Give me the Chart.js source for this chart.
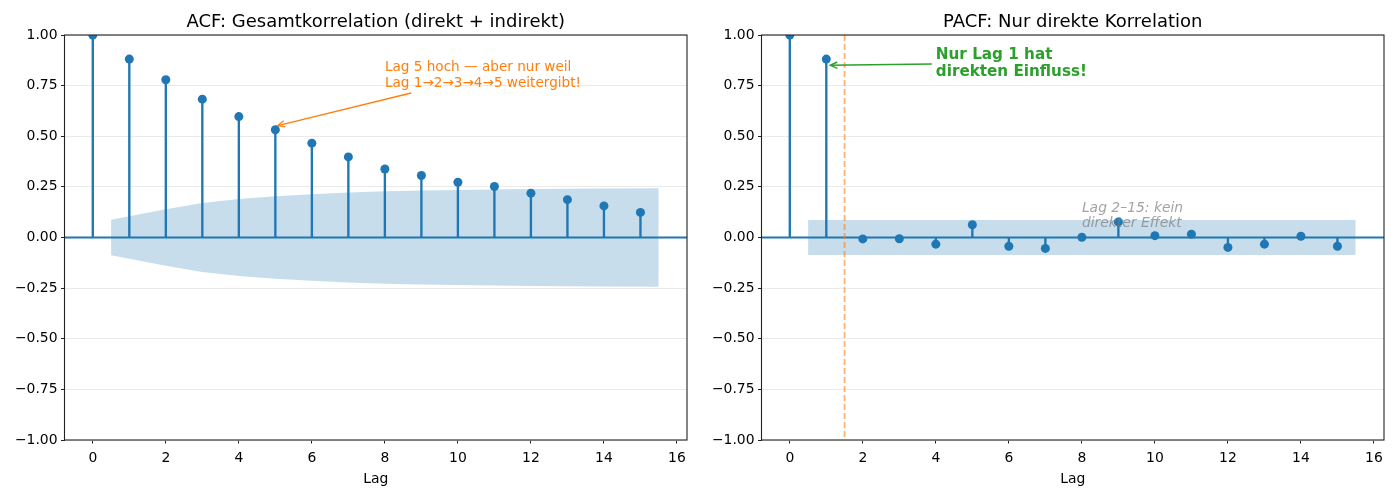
<!DOCTYPE html>
<html><head><meta charset="utf-8">
<script src="https://cdn.jsdelivr.net/npm/chart.js@4.4.0/dist/chart.umd.min.js"></script>
<style>
html,body{margin:0;padding:0;background:#fff;}
#wrap{position:relative;width:1397px;height:488px;overflow:hidden;background:#fff;}
canvas{position:absolute;top:0;}
</style></head><body>
<div id="wrap">
<canvas id="c1" width="700" height="488" style="left:0px"></canvas>
<canvas id="c2" width="700" height="488" style="left:697px"></canvas>
</div>
<script>
// ---------- data ----------
const lags = [0,1,2,3,4,5,6,7,8,9,10,11,12,13,14,15];
const acfValues  = [1.000,0.881,0.779,0.683,0.597,0.532,0.466,0.398,0.338,0.306,0.273,0.252,0.219,0.187,0.156,0.124];
const pacfValues = [1.000,0.881,-0.007,-0.006,-0.033,0.063,-0.043,-0.054,0.001,0.077,0.009,0.016,-0.049,-0.033,0.006,-0.043];
const acfBandX     = [0.5,2,3,4,5,6,7,8,9,10,11,12,13,14,15.5];
const acfBandUpper = [0.088,0.140,0.170,0.190,0.204,0.214,0.222,0.228,0.232,0.235,0.237,0.239,0.241,0.242,0.243];
const acfBandLower = [-0.088,-0.140,-0.170,-0.190,-0.204,-0.214,-0.222,-0.228,-0.232,-0.235,-0.237,-0.239,-0.241,-0.242,-0.243];
const pacfBandX     = [0.5,15.5];
const pacfBandUpper = [0.087,0.087];
const pacfBandLower = [-0.086,-0.086];
const xTickValues = [0,2,4,6,8,10,12,14,16];
const yTickValues = [-1,-0.75,-0.5,-0.25,0,0.25,0.5,0.75,1];
const xRange = [-0.775, 16.275];
const yRange = [-1, 1];
const acfTitle = 'ACF: Gesamtkorrelation (direkt + indirekt)';
const pacfTitle = 'PACF: Nur direkte Korrelation';
const xLabel = 'Lag';
const acfNote = ['Lag 5 hoch \u2014 aber nur weil', 'Lag 1\u21922\u21923\u21924\u21925 weitergibt!'];
const pacfNote = ['Nur Lag 1 hat', 'direkten Einfluss!'];
const pacfNote2 = ['Lag 2\u201315: kein', 'direkter Effekt'];
const pacfCutoff = 1.5;

// ---------- helpers ----------
const BLUE = '#1f77b4';
const FONT = "'DejaVu Sans', sans-serif";
function arrowHead(ctx, x1, y1, x2, y2, len, half) {
  const a = Math.atan2(y2 - y1, x2 - x1);
  ctx.beginPath();
  ctx.moveTo(x2 - len*Math.cos(a) + half*Math.sin(a), y2 - len*Math.sin(a) - half*Math.cos(a));
  ctx.lineTo(x2, y2);
  ctx.lineTo(x2 - len*Math.cos(a) - half*Math.sin(a), y2 - len*Math.sin(a) + half*Math.cos(a));
  ctx.stroke();
}
function arrow(ctx, x1, y1, x2, y2, color, lw) {
  ctx.save();
  ctx.strokeStyle = color; ctx.lineWidth = lw; ctx.lineCap = 'butt'; ctx.lineJoin = 'miter';
  ctx.beginPath(); ctx.moveTo(x1, y1); ctx.lineTo(x2, y2); ctx.stroke();
  arrowHead(ctx, x1, y1, x2, y2, 7, 3.2);
  ctx.restore();
}
function shrink(x1, y1, x2, y2, d) {
  const L = Math.hypot(x2 - x1, y2 - y1);
  return [x2 - (x2 - x1) / L * d, y2 - (y2 - y1) / L * d];
}

const framePlugin = {
  id: 'frame',
  afterDraw(chart, args, opts) {
    const ctx = chart.ctx, a = chart.chartArea;
    ctx.save();
    ctx.strokeStyle = '#222'; ctx.lineWidth = 1.1;
    ctx.strokeRect(a.left, a.top, a.right - a.left, a.bottom - a.top);
    ctx.fillStyle = '#000';
    ctx.textAlign = 'center'; ctx.textBaseline = 'alphabetic';
    ctx.font = '18px ' + FONT;
    ctx.fillText(opts.title, (a.left + a.right) / 2, 27);
    ctx.font = '13.9px ' + FONT;
    ctx.fillText(xLabel, (a.left + a.right) / 2, 483);
    ctx.restore();
  }
};

function buildChart(canvasId, values, bandX, bandUp, bandLo, title, extraPlugin) {
  const pts = lags.map((x, i) => ({x: x, y: values[i]}));
  return new Chart(document.getElementById(canvasId), {
    type: 'line',
    data: {
      datasets: [
        {type: 'line', data: bandX.map((x, i) => ({x: x, y: bandUp[i]})), fill: '+1',
         backgroundColor: 'rgba(31,119,180,0.25)', borderColor: 'rgba(0,0,0,0)', borderWidth: 0,
         pointRadius: 0, tension: 0, order: 6},
        {type: 'line', data: bandX.map((x, i) => ({x: x, y: bandLo[i]})), fill: false,
         borderColor: 'rgba(0,0,0,0)', borderWidth: 0, pointRadius: 0, tension: 0, order: 6},
        {type: 'line', data: [{x: xRange[0], y: 0}, {x: xRange[1], y: 0}], fill: false,
         borderColor: BLUE, borderWidth: 1.8, pointRadius: 0, order: 4},
        {type: 'bar', data: pts, backgroundColor: BLUE, borderWidth: 0, barThickness: 1.7, order: 3},
        {type: 'line', data: pts, showLine: false, pointRadius: 4.5, pointBackgroundColor: BLUE,
         pointBorderWidth: 0, pointBorderColor: BLUE, borderColor: BLUE, order: 1, clip: 0}
      ]
    },
    options: {
      responsive: false, animation: false, devicePixelRatio: 1, events: [],
      layout: {padding: {left: 0, top: 35, right: 13, bottom: 0}},
      plugins: {legend: {display: false}, tooltip: {enabled: false}, title: {display: false},
                frame: {title: title}},
      scales: {
        x: {
          type: 'linear', min: xRange[0], max: xRange[1], offset: false,
          afterBuildTicks: s => { s.ticks = xTickValues.map(v => ({value: v})); },
          afterFit: s => { s.height = 48; },
          border: {display: false},
          grid: {display: true, offset: false, drawOnChartArea: false, drawTicks: true, tickLength: 3.5, tickColor: '#222', tickWidth: 1},
          ticks: {autoSkip: false, maxRotation: 0, padding: 7, color: '#000',
                  font: {family: FONT, size: 13.9}, callback: v => String(v)}
        },
        y: {
          type: 'linear', min: yRange[0], max: yRange[1],
          afterBuildTicks: s => { s.ticks = yTickValues.map(v => ({value: v})); },
          afterFit: s => { s.width = 64.5; },
          border: {display: false},
          grid: {display: true, offset: false, drawOnChartArea: true, drawTicks: true, tickLength: 3.5,
                 tickColor: '#222', color: '#e8e8e8', lineWidth: 0.9, tickWidth: 1},
          ticks: {autoSkip: false, padding: 3.5, color: '#000', font: {family: FONT, size: 13.9},
                  callback: v => v.toFixed(2).replace('-', '\u2212')}
        }
      }
    },
    plugins: [framePlugin, extraPlugin]
  });
}

const acfAnnot = {
  id: 'acfAnnot',
  afterDatasetsDraw(chart) {
    const ctx = chart.ctx, xs = chart.scales.x, ys = chart.scales.y;
    ctx.save();
    ctx.font = '13.6px ' + FONT;
    ctx.fillStyle = '#ff7f0e';
    const ax = xs.getPixelForValue(8), ay = ys.getPixelForValue(0.8);
    ctx.textAlign = 'left'; ctx.textBaseline = 'alphabetic';
    ctx.fillText(acfNote[0], ax, ay - 5.0);
    ctx.fillText(acfNote[1], ax, ay + 11.0);
    const w = Math.max(ctx.measureText(acfNote[0]).width, ctx.measureText(acfNote[1]).width);
    const cx = ax + w / 2, cy = ay;
    const tx = xs.getPixelForValue(5), ty = ys.getPixelForValue(0.55);
    const by = cy + 17.5;
    const sx = cx + (tx - cx) * (by - cy) / (ty - cy);
    const [ex, ey] = shrink(sx, by, tx, ty, 2.5);
    arrow(ctx, sx, by, ex, ey, '#ff7f0e', 1.3);
    ctx.restore();
  }
};

const pacfAnnot = {
  id: 'pacfAnnot',
  afterDatasetsDraw(chart) {
    const ctx = chart.ctx, xs = chart.scales.x, ys = chart.scales.y, a = chart.chartArea;
    ctx.save();
    // cutoff line
    const vx = xs.getPixelForValue(pacfCutoff);
    ctx.strokeStyle = 'rgba(255,127,14,0.6)'; ctx.lineWidth = 1.8; ctx.setLineDash([6, 3]);
    ctx.beginPath(); ctx.moveTo(vx, a.top); ctx.lineTo(vx, a.bottom); ctx.stroke();
    ctx.setLineDash([]);
    // gray note
    ctx.font = 'italic 13.9px ' + FONT;
    ctx.fillStyle = 'rgba(128,128,128,0.72)';
    ctx.textAlign = 'left'; ctx.textBaseline = 'alphabetic';
    const gx = xs.getPixelForValue(8), gy = ys.getPixelForValue(0.1);
    ctx.fillText(pacfNote2[0], gx, gy - 5.6);
    ctx.fillText(pacfNote2[1], gx, gy + 9.6);
    // green note
    ctx.font = 'bold 15.2px ' + FONT;
    ctx.fillStyle = '#2ca02c';
    const ax = xs.getPixelForValue(4), ay = ys.getPixelForValue(0.862);
    ctx.fillText(pacfNote[0], ax, ay - 4.1);
    ctx.fillText(pacfNote[1], ax, ay + 12.8);
    const w = Math.max(ctx.measureText(pacfNote[0]).width, ctx.measureText(pacfNote[1]).width);
    const cx = ax + w / 2, cy = ay;
    const tx = xs.getPixelForValue(1), ty = ys.getPixelForValue(0.85);
    const bx = ax - 4;
    const sy = cy + (ty - cy) * (bx - cx) / (tx - cx);
    const [ex, ey] = shrink(bx, sy, tx, ty, 4);
    arrow(ctx, bx, sy, ex, ey, '#2ca02c', 1.5);
    ctx.restore();
  }
};

buildChart('c1', acfValues, acfBandX, acfBandUpper, acfBandLower, acfTitle, acfAnnot);
buildChart('c2', pacfValues, pacfBandX, pacfBandUpper, pacfBandLower, pacfTitle, pacfAnnot);
</script>
</body></html>
